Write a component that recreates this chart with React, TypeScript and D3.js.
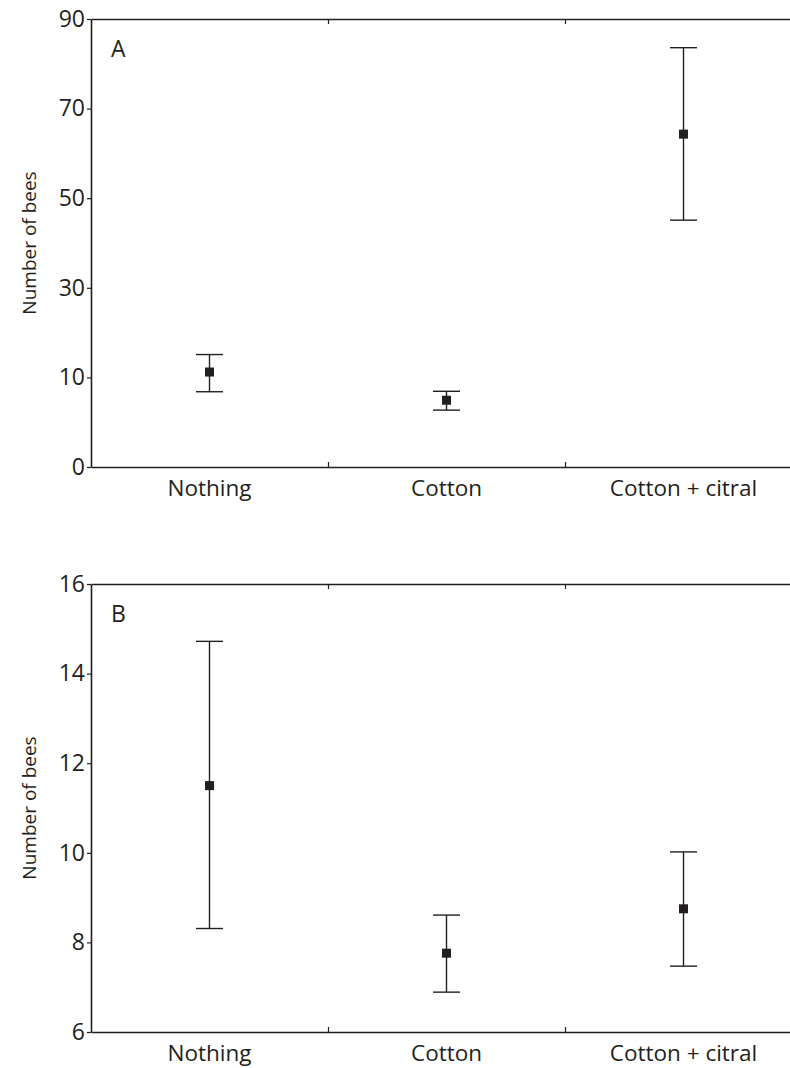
import { useEffect, useRef } from 'react';
import * as d3 from 'd3';

const categories = ['Nothing', 'Cotton', 'Cotton + citral'];

// Panel A
const meansA = [11.2, 4.9, 64.3];
const upperA = [15.1, 6.9, 83.6];
const lowerA = [6.8, 2.7, 45.1];
const ticksA = [-10, 10, 30, 50, 70, 90];
const tickLabelsA = ['0', '10', '30', '50', '70', '90'];

// Panel B
const meansB = [11.5, 7.76, 8.75];
const upperB = [14.72, 8.61, 10.02];
const lowerB = [8.31, 6.89, 7.47];
const ticksB = [6, 8, 10, 12, 14, 16];
const tickLabelsB = ['6', '8', '10', '12', '14', '16'];

const INK = '#231f20';
const FONT = '"Open Sans", "DejaVu Sans", sans-serif';

type PanelProps = {
  letter: string;
  means: number[];
  upper: number[];
  lower: number[];
  ticks: number[];
  tickLabels: string[];
  top: number;
  bottom: number;
};

function drawPanel(root: d3.Selection<SVGGElement, unknown, null, undefined>, p: PanelProps) {
  const left = 91;
  const bandW = 237;
  const right = left + bandW * 3;

  const y = d3
    .scaleLinear()
    .domain([p.ticks[0], p.ticks[p.ticks.length - 1]])
    .range([p.bottom, p.top]);

  const x = d3.scaleBand().domain(categories).range([left, right]).padding(0);
  const xIdx = d3.scaleLinear().domain([0, 3]).range([left, right]);

  const g = root.append('g');

  // left axis
  const yAxis = g
    .append('g')
    .attr('transform', `translate(${left},0)`)
    .call(
      d3
        .axisLeft(y)
        .tickValues(p.ticks)
        .tickSize(4)
        .tickSizeOuter(0)
        .tickPadding(2)
        .tickFormat((_d, i) => p.tickLabels[i])
    );
  yAxis.select('.domain').attr('stroke', INK).attr('stroke-width', 1.6);
  yAxis.selectAll('.tick line').attr('stroke', INK).attr('stroke-width', 1.2);
  yAxis
    .selectAll('.tick text')
    .attr('fill', INK)
    .style('font-family', FONT)
    .style('font-size', '23px');

  // bottom axis with ticks at category boundaries, pointing in
  const xAxis = g
    .append('g')
    .attr('transform', `translate(0,${p.bottom})`)
    .call(d3.axisBottom(xIdx).tickValues([1, 2]).tickSize(-5).tickSizeOuter(0).tickFormat(() => ''));
  xAxis.select('.domain').attr('stroke', INK).attr('stroke-width', 1.6);
  xAxis.selectAll('.tick line').attr('stroke', INK).attr('stroke-width', 1.2);

  // top frame
  const topAxis = g
    .append('g')
    .attr('transform', `translate(0,${p.top})`)
    .call(d3.axisTop(xIdx).tickValues([1, 2]).tickSize(-5).tickSizeOuter(0).tickFormat(() => ''));
  topAxis.select('.domain').attr('stroke', INK).attr('stroke-width', 1.6);
  topAxis.selectAll('.tick line').attr('stroke', INK).attr('stroke-width', 1.2);

  // category labels
  g.selectAll('.cat')
    .data(categories)
    .enter()
    .append('text')
    .attr('x', (d) => (x(d) ?? 0) + x.bandwidth() / 2)
    .attr('y', p.bottom + 29)
    .attr('text-anchor', 'middle')
    .attr('fill', INK)
    .style('font-family', FONT)
    .style('font-size', '22.5px')
    .text((d) => d);

  // y title
  g.append('text')
    .attr('transform', `translate(36,${(p.top + p.bottom) / 2}) rotate(-90)`)
    .attr('text-anchor', 'middle')
    .attr('fill', INK)
    .style('font-family', FONT)
    .style('font-size', '19px')
    .text('Number of bees');

  // panel letter
  g.append('text')
    .attr('x', left + 20)
    .attr('y', p.top + 38)
    .attr('fill', INK)
    .style('font-family', FONT)
    .style('font-size', '23px')
    .text(p.letter);

  // error bars
  const cx = (i: number) => (x(categories[i]) ?? 0) + x.bandwidth() / 2;
  const capW = 13.5;
  const bars = g.selectAll('.err').data(categories).enter().append('g');
  bars
    .append('line')
    .attr('x1', (_d, i) => cx(i))
    .attr('x2', (_d, i) => cx(i))
    .attr('y1', (_d, i) => y(p.upper[i]))
    .attr('y2', (_d, i) => y(p.lower[i]))
    .attr('stroke', INK)
    .attr('stroke-width', 1.4);
  bars
    .append('line')
    .attr('x1', (_d, i) => cx(i) - capW)
    .attr('x2', (_d, i) => cx(i) + capW)
    .attr('y1', (_d, i) => y(p.upper[i]))
    .attr('y2', (_d, i) => y(p.upper[i]))
    .attr('stroke', INK)
    .attr('stroke-width', 1.4);
  bars
    .append('line')
    .attr('x1', (_d, i) => cx(i) - capW)
    .attr('x2', (_d, i) => cx(i) + capW)
    .attr('y1', (_d, i) => y(p.lower[i]))
    .attr('y2', (_d, i) => y(p.lower[i]))
    .attr('stroke', INK)
    .attr('stroke-width', 1.4);
  bars
    .append('rect')
    .attr('x', (_d, i) => cx(i) - 4.5)
    .attr('y', (_d, i) => y(p.means[i]) - 4.5)
    .attr('width', 9)
    .attr('height', 9)
    .attr('fill', INK);
}

function Chart() {
  const svgRef = useRef<SVGSVGElement>(null);

  useEffect(() => {
    const svg = d3.select(svgRef.current);
    svg.selectAll('*').remove();
    const root = svg.append('g') as unknown as d3.Selection<SVGGElement, unknown, null, undefined>;

    drawPanel(root, {
      letter: 'A',
      means: meansA,
      upper: upperA,
      lower: lowerA,
      ticks: ticksA,
      tickLabels: tickLabelsA,
      top: 19,
      bottom: 467,
    });
    drawPanel(root, {
      letter: 'B',
      means: meansB,
      upper: upperB,
      lower: lowerB,
      ticks: ticksB,
      tickLabels: tickLabelsB,
      top: 584,
      bottom: 1032,
    });
  }, []);

  return (
    <svg
      ref={svgRef}
      width={790}
      height={1068}
      style={{ position: 'absolute', left: 0, top: 0, background: '#fff', display: 'block' }}
    />
  );
}

export default function App() {
  return <Chart />;
}
